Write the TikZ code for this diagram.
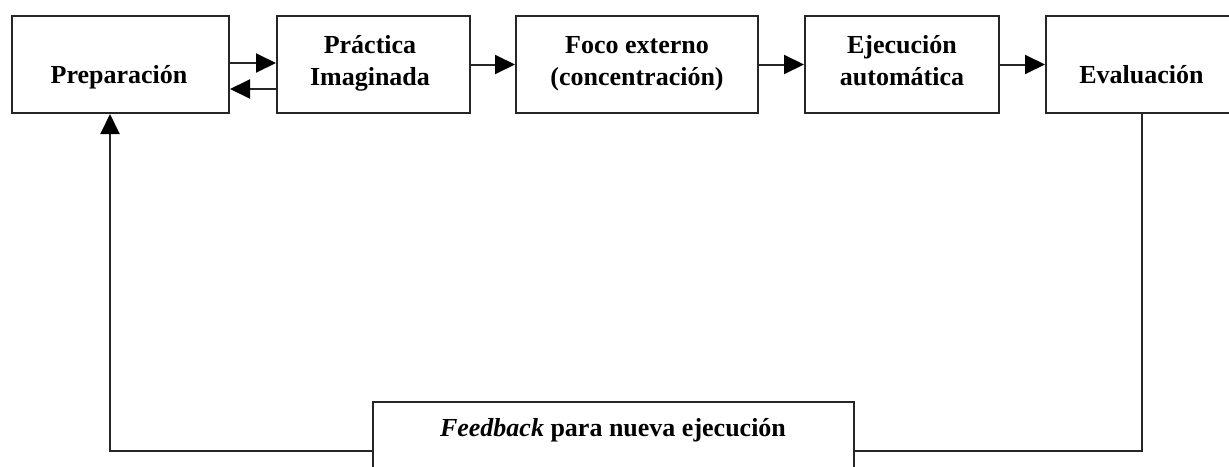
\documentclass[tikz,border=0pt]{standalone}
\usepackage{fontspec}
\setmainfont{Liberation Serif}
\usetikzlibrary{arrows.meta}
\definecolor{lncol}{HTML}{262626}
\begin{document}
\begin{tikzpicture}[x=1pt,y=-1pt,
  box/.style={draw=lncol, line width=2pt, minimum height=97pt, inner sep=0pt, anchor=center},
  lbl/.style={anchor=base, font=\fontsize{26}{32}\selectfont\bfseries, inner sep=0pt},
  arr/.style={draw=lncol, line width=2pt, -{Triangle[length=20pt,width=19pt,fill=black,color=black]}},
  ln/.style={draw=lncol, line width=2pt}]
\useasboundingbox (0,0) rectangle (1229,466);
\fill[white] (0,0) rectangle (1229,466);
\clip (0,0) rectangle (1229,466);
% boxes
\node[box, minimum width=217pt] (prep) at (120.5,64.5) {};
\node[box, minimum width=193pt] (prac) at (373.5,64.5) {};
\node[box, minimum width=242pt] (foco) at (637,64.5) {};
\node[box, minimum width=194pt] (ejec) at (902,64.5) {};
\node[box, minimum width=192pt] (eval) at (1142,64.5) {};
\node[box, minimum width=481pt] (fb) at (613.5,450.5) {};
% labels
\node[lbl] (tprep) at (119,83) {Preparación};
\node[lbl] (tprac1) at (370,53) {Práctica};
\node[lbl] (tprac2) at (370,85) {Imaginada};
\node[lbl] (tfoco1) at (637,53) {Foco externo};
\node[lbl] (tfoco2) at (637,85) {(concentración)};
\node[lbl] (tejec1) at (902,53) {Ejecución};
\node[lbl] (tejec2) at (902,85) {automática};
\node[lbl] (teval) at (1141.5,83) {Evaluación};
\node[lbl] (tfb) at (613,436) {{\itshape Feedback} para nueva ejecución};
% connectors
\draw[arr] ([yshift=1.5pt]prep.east) -- ([yshift=1.5pt]prac.west);
\draw[arr] ([yshift=-24.5pt]prac.west) -- ([yshift=-24.5pt]prep.east);
\draw[arr] (prac.east) -- (foco.west);
\draw[arr] (foco.east) -- (ejec.west);
\draw[arr] (ejec.east) -- (eval.west);
\draw[ln] (eval.south) |- (fb.east);
\draw[arr] (fb.west) -| ([xshift=-10.5pt]prep.south);
\end{tikzpicture}
\end{document}
